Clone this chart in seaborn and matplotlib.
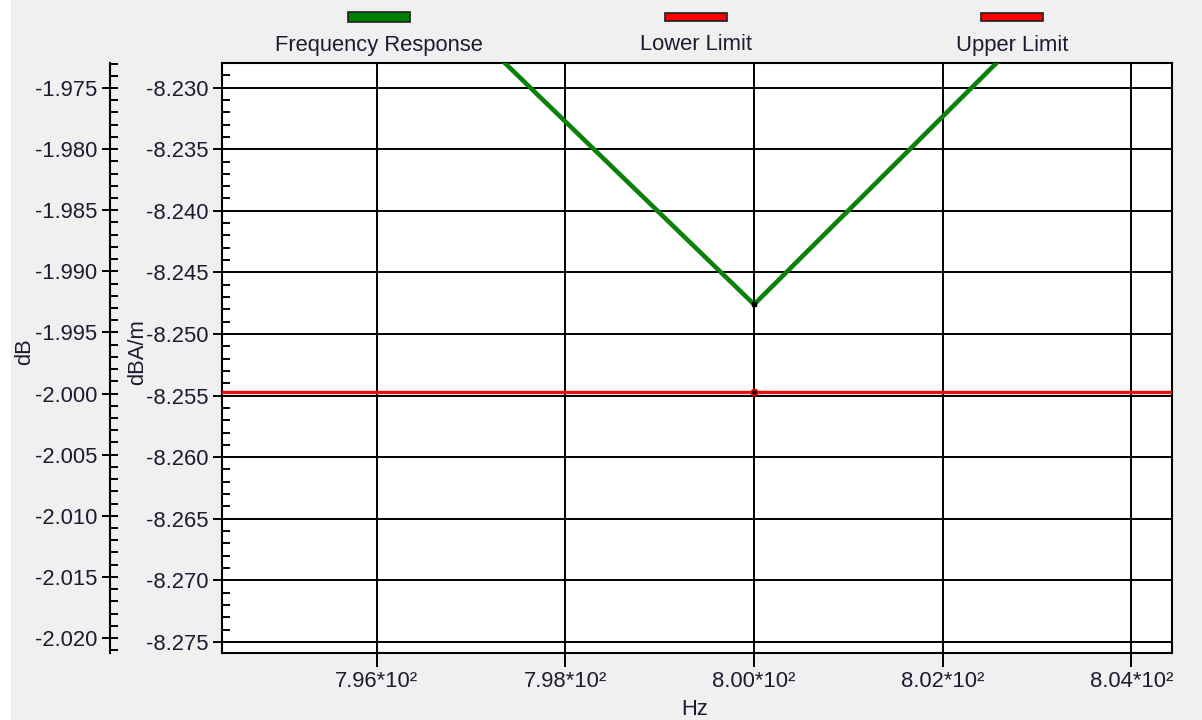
import matplotlib
matplotlib.use("Agg")
import matplotlib.pyplot as plt
import matplotlib.patheffects as pe
from matplotlib.patches import Rectangle
from matplotlib.ticker import MultipleLocator, FuncFormatter, FormatStrFormatter
import seaborn as sns
import pandas as pd

# data
freq_hz = [790.0, 800.0, 810.0]
response_dbam = [-8.1734, -8.2476, -8.1713]
lower_limit_dbam = -8.25468
limit_freq = [790.0, 810.0]
legend_names = ["Frequency Response", "Lower Limit", "Upper Limit"]
legend_colors = ["#008000", "#ff0000", "#ff0000"]
x_ticks = [796, 798, 800, 802, 804]

sns.set_theme(style="white")
plt.rcParams["font.family"] = ["Liberation Sans", "DejaVu Sans"]
txt = "#1c1c30"
fs = 15.8

W, H = 1202, 720
fig = plt.figure(figsize=(W / 100, H / 100), dpi=100, facecolor="#f0f0f0")
fig.patches.append(Rectangle((0, 0), 11 / W, 1, transform=fig.transFigure,
                             facecolor="white", edgecolor="none", zorder=-1))

L, R, T, B = 222, 1172, 63, 653
ax = fig.add_axes([L / W, (H - B) / H, (R - L) / W, (B - T) / H])
ax.set_facecolor("white")

resp = pd.DataFrame({"Hz": freq_hz, "dBA/m": response_dbam})
lim = pd.DataFrame({"Hz": limit_freq, "dBA/m": [lower_limit_dbam] * 2})

sns.lineplot(data=resp, x="Hz", y="dBA/m", ax=ax, color="#0b800b", lw=3.3, zorder=4)
sns.lineplot(data=lim, x="Hz", y="dBA/m", ax=ax, color="#ff0000", lw=1.5, zorder=4,
             path_effects=[pe.Stroke(linewidth=2.4, foreground="#b83030"), pe.Normal()])
ax.plot([800], [min(response_dbam)], "s", color="black", ms=3, zorder=5)
ax.plot([800], [lower_limit_dbam], "o", color="black", mec="#ff0000", mew=1.2, ms=4.5, zorder=5)

ax.set_xlim(794.36, 804.43)
ax.set_ylim(-8.2759, -8.2280)
ax.set_xticks(x_ticks)
ax.xaxis.set_major_formatter(FuncFormatter(lambda v, p: f"{v / 100:.2f}*10\u00b2"))
ax.yaxis.set_major_locator(MultipleLocator(0.005))
ax.yaxis.set_minor_locator(MultipleLocator(0.001))
ax.yaxis.set_major_formatter(FormatStrFormatter("%.3f"))
ax.grid(True, which="major", color="black", lw=1.4, zorder=1)
ax.set_axisbelow(True)
for s in ax.spines.values():
    s.set_color("black")
    s.set_linewidth(1.5)
ax.tick_params(axis="x", which="major", direction="out", length=10, width=1.4,
               color="black", labelsize=fs, labelcolor=txt, pad=3, bottom=True)
ax.tick_params(axis="y", which="major", direction="out", length=6.5, width=1.4,
               color="black", labelsize=fs, labelcolor=txt, pad=3, left=True)
ax.tick_params(axis="y", which="minor", direction="in", length=6, width=1.4,
               color="black", left=True)

ax.set_xlabel("Hz", fontsize=fs, color=txt)
ax.xaxis.set_label_coords((695 - L) / (R - L), (B - 699) / (B - T))
ax.set_ylabel("dBA/m", fontsize=fs, color=txt)
ax.yaxis.set_label_coords((148 - L) / (R - L), (B - 352) / (B - T))

# outer dB axis
ax2 = ax.twinx()
ax2.set_ylim(-2.02123, -1.97295)
ax2.yaxis.set_ticks_position("left")
ax2.yaxis.set_label_position("left")
ax2.spines["left"].set_position(("axes", (110 - L) / (R - L)))
ax2.spines["left"].set_visible(True)
ax2.spines["left"].set_color("black")
ax2.spines["left"].set_linewidth(1.5)
for k in ["right", "top", "bottom"]:
    ax2.spines[k].set_visible(False)
ax2.yaxis.set_major_locator(MultipleLocator(0.005))
ax2.yaxis.set_minor_locator(MultipleLocator(0.001))
ax2.yaxis.set_major_formatter(FormatStrFormatter("%.3f"))
ax2.tick_params(axis="y", which="major", direction="inout", length=12, width=1.4,
                color="black", labelsize=fs, labelcolor=txt, pad=3)
ax2.tick_params(axis="y", which="minor", direction="in", length=6, width=1.4, color="black")
ax2.set_ylabel("dB", fontsize=fs, color=txt)
ax2.yaxis.set_label_coords((35 - L) / (R - L), (B - 352) / (B - T))
ax2.grid(False)

# legend across the top: swatch above the name
centers = [379, 696, 1012]
heights = [10, 8, 8]
for name, col, cx, h in zip(legend_names, legend_colors, centers, heights):
    fig.patches.append(Rectangle(((cx - 31) / W, (H - 17 - h / 2) / H), 62 / W, h / H,
                                 transform=fig.transFigure, facecolor=col,
                                 edgecolor="#202020", lw=1.2))
    fig.text(cx / W, (H - 45) / H, name, ha="center", va="center", fontsize=fs, color=txt)

fig.savefig("out.png", dpi=100, facecolor=fig.get_facecolor())
